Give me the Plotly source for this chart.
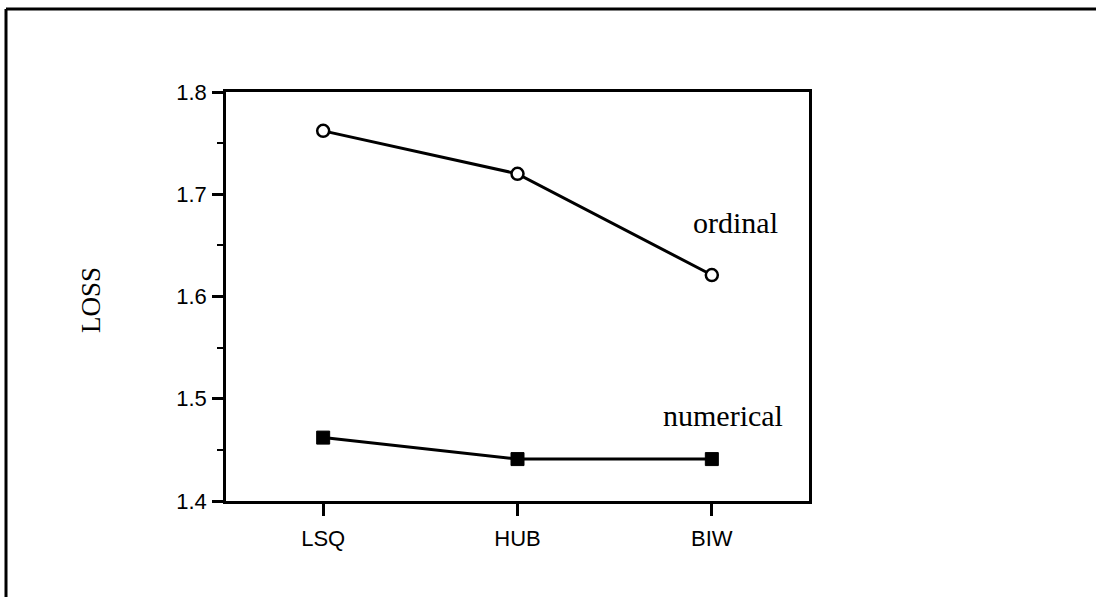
import plotly.graph_objects as go

categories = ["LSQ", "HUB", "BIW"]
ordinal = [1.762, 1.720, 1.621]
numerical = [1.462, 1.441, 1.441]
y_ticks = [1.4, 1.5, 1.6, 1.7, 1.8]
y_tick_labels = ["1.4", "1.5", "1.6", "1.7", "1.8"]

fig = go.Figure()
fig.add_trace(go.Scatter(
    x=categories, y=ordinal, mode="lines+markers", name="ordinal",
    line=dict(color="black", width=3),
    marker=dict(symbol="circle", size=12, color="white",
                line=dict(color="black", width=2.5)),
))
fig.add_trace(go.Scatter(
    x=categories, y=numerical, mode="lines+markers", name="numerical",
    line=dict(color="black", width=3),
    marker=dict(symbol="square", size=13, color="black",
                line=dict(color="black", width=1)),
))

sans = "Liberation Sans, Arial, sans-serif"
fig.update_layout(
    width=1096, height=597,
    margin=dict(l=226, r=287, t=92, b=96),
    paper_bgcolor="white", plot_bgcolor="white",
    showlegend=False,
    font=dict(family=sans, size=22, color="black"),
)
fig.update_xaxes(
    type="category", range=[-0.5, 2.5],
    showline=True, mirror=True, linecolor="black", linewidth=2.5,
    ticks="outside", ticklen=12, tickwidth=2.5, tickcolor="black",
    showgrid=False, zeroline=False,
    tickfont=dict(family=sans, size=22, color="black"),
    ticklabelstandoff=4,
)
fig.update_yaxes(
    range=[1.4, 1.8],
    tickvals=y_ticks, ticktext=y_tick_labels,
    showline=True, mirror=True, linecolor="black", linewidth=2.5,
    ticks="outside", ticklen=11, tickwidth=2.5, tickcolor="black",
    minor=dict(dtick=0.05, tick0=1.4, ticks="outside", ticklen=6, tickwidth=2, tickcolor="black"),
    showgrid=False, zeroline=False,
    tickfont=dict(family=sans, size=22, color="black"),
    ticklabelstandoff=1,
)

serif = "Liberation Serif, Times New Roman, serif"
fig.add_annotation(x=2.12, y=1.672, xref="x", yref="y", text="ordinal",
                   showarrow=False, font=dict(family=serif, size=30, color="black"))
fig.add_annotation(x=2.06, y=1.484, xref="x", yref="y", text="numerical",
                   showarrow=False, font=dict(family=serif, size=30, color="black"))
fig.add_annotation(x=(91 - 226) / 583, y=(501 - 300) / 409, xref="paper", yref="paper",
                   xanchor="center", yanchor="middle",
                   text="LOSS", textangle=-90, showarrow=False,
                   font=dict(family=serif, size=27, color="black"))

# outer frame (left and top edges visible)
fig.add_shape(type="line", xref="paper", yref="paper",
              x0=(6 - 226) / 583, y0=(501 - 610) / 409,
              x1=(6 - 226) / 583, y1=(501 - 9) / 409,
              line=dict(color="black", width=3))
fig.add_shape(type="line", xref="paper", yref="paper",
              x0=(6 - 226) / 583, y0=(501 - 9) / 409,
              x1=(1110 - 226) / 583, y1=(501 - 9) / 409,
              line=dict(color="black", width=3))

fig.write_html("out.html")
